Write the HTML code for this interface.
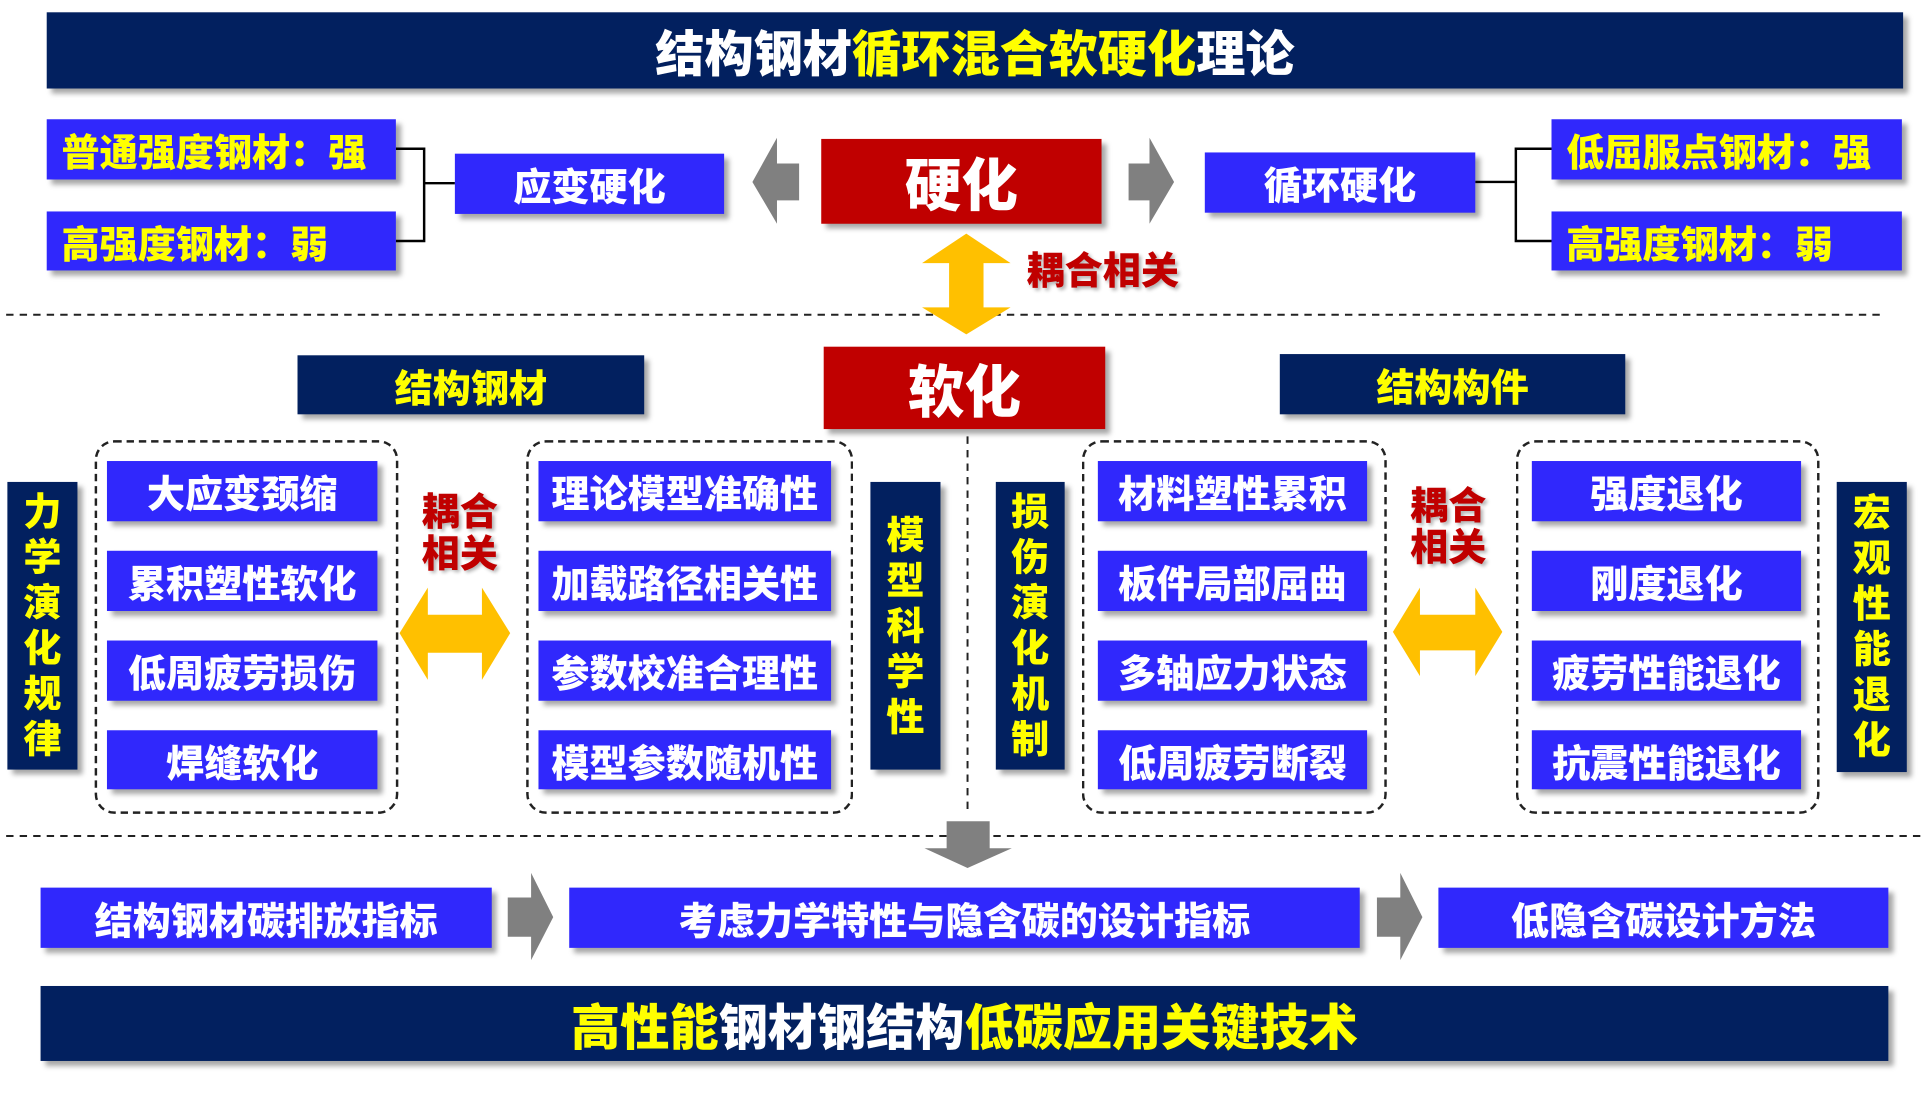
<!DOCTYPE html>
<html><head><meta charset="utf-8"><style>
html,body{margin:0;padding:0;background:#fff;width:1924px;height:1095px;overflow:hidden}
#c{position:absolute;left:0;top:0;width:1565px;height:891px;transform:scale(1.2294);transform-origin:0 0;font-family:"Liberation Sans","Noto Sans CJK SC",sans-serif;font-weight:900}
.b{position:absolute;display:flex;align-items:center;justify-content:center;box-shadow:4px 4px 4px rgba(0,0,0,.35);white-space:nowrap}
.bl{background:#3028fc;color:#fff;font-size:31px}
.nv{background:#02205f;color:#ffff00;font-size:31px}
.rd{background:#c00000;color:#fff;font-size:46px}
.y{color:#ffff00}.w{color:#fff}
.v{flex-direction:column;line-height:37px;font-size:31px}
.dbox{position:absolute;border:2px dashed #222;border-radius:16px}
.red{position:absolute;color:#c00000;font-size:31px;line-height:34px;text-shadow:2px 2px 3px rgba(0,0,0,.3)}
</style></head><body><div id="c">
<svg width="1565" height="891" style="position:absolute;left:0;top:0">
<g stroke="#000" stroke-width="2" fill="none">
<path d="M322 121H345V196H322M345 149H370"/>
<path d="M1200 148H1233M1262 121H1233V196H1262"/>
</g>
<g stroke="#222" stroke-width="1.6" stroke-dasharray="6,5">
<line x1="5" y1="256" x2="1532" y2="256"/>
<line x1="5" y1="680" x2="1565" y2="680"/>
<line x1="787" y1="355" x2="787" y2="662"/>
</g>
<g fill="#808080">
<polygon points="612,148 632,112 632,133 650,133 650,163 632,163 632,182"/>
<polygon points="955,148 935,112 935,133 918,133 918,163 935,163 935,182"/>
<polygon points="787,706 752,690 770,690 770,668 805,668 805,690 823,690"/>
<polygon points="450,746 432,710 432,730 413,730 413,762 432,762 432,781"/>
<polygon points="1157,746 1139,710 1139,730 1120,730 1120,762 1139,762 1139,781"/>
</g>
<g fill="#ffc000">
<polygon points="786,190 822,214 800,214 800,250 822,250 786,272 750,250 772,250 772,214 750,214"/>
<polygon points="325,515 348,478 348,500 392,500 392,478 415,515 392,553 392,531 348,531 348,553"/>
<polygon points="1133,514 1155,478 1155,500 1200,500 1200,478 1222,514 1200,550 1200,529 1155,529 1155,550"/>
</g>
</svg>
<div class="b nv" style="left:38px;top:10px;width:1510px;height:62px;font-size:40px"><span class="w">结构钢材</span><span class="y">循环混合软硬化</span><span class="w">理论</span></div>
<div class="b bl" style="left:38px;top:97px;width:284px;height:49px;color:#ff0;justify-content:flex-start;padding-left:12px;box-sizing:border-box">普通强度钢材：强</div>
<div class="b bl" style="left:38px;top:172px;width:284px;height:48px;color:#ff0;justify-content:flex-start;padding-left:12px;box-sizing:border-box">高强度钢材：弱</div>
<div class="b bl" style="left:370px;top:125px;width:219px;height:49px">应变硬化</div>
<div class="b rd" style="left:668px;top:113px;width:228px;height:69px">硬化</div>
<div class="b bl" style="left:980px;top:124px;width:220px;height:49px">循环硬化</div>
<div class="b bl" style="left:1262px;top:97px;width:285px;height:49px;color:#ff0;justify-content:flex-start;padding-left:12px;box-sizing:border-box">低屈服点钢材：强</div>
<div class="b bl" style="left:1262px;top:172px;width:285px;height:48px;color:#ff0;justify-content:flex-start;padding-left:12px;box-sizing:border-box">高强度钢材：弱</div>
<div class="red" style="left:835px;top:204px">耦合相关</div>
<div class="b rd" style="left:670px;top:282px;width:229px;height:67px">软化</div>
<div class="b nv" style="left:242px;top:289px;width:282px;height:48px">结构钢材</div>
<div class="b nv" style="left:1041px;top:288px;width:281px;height:49px">结构构件</div>
<div class="b nv v" style="left:6px;top:392px;width:57px;height:234px">力<br>学<br>演<br>化<br>规<br>律</div>
<div class="b nv v" style="left:708px;top:392px;width:57px;height:234px">模<br>型<br>科<br>学<br>性</div>
<div class="b nv v" style="left:810px;top:392px;width:56px;height:234px">损<br>伤<br>演<br>化<br>机<br>制</div>
<div class="b nv v" style="left:1494px;top:392px;width:57px;height:236px">宏<br>观<br>性<br>能<br>退<br>化</div>
<div class="dbox" style="left:77px;top:358px;width:243px;height:300px"></div>
<div class="dbox" style="left:428px;top:358px;width:262px;height:300px"></div>
<div class="dbox" style="left:880px;top:358px;width:244px;height:300px"></div>
<div class="dbox" style="left:1233px;top:358px;width:243px;height:300px"></div>
<div class="b bl" style="left:87px;top:375px;width:220px;height:49px">大应变颈缩</div>
<div class="b bl" style="left:87px;top:448px;width:220px;height:49px">累积塑性软化</div>
<div class="b bl" style="left:87px;top:521px;width:220px;height:49px">低周疲劳损伤</div>
<div class="b bl" style="left:87px;top:594px;width:220px;height:48px">焊缝软化</div>
<div class="b bl" style="left:438px;top:375px;width:238px;height:49px">理论模型准确性</div>
<div class="b bl" style="left:438px;top:448px;width:238px;height:49px">加载路径相关性</div>
<div class="b bl" style="left:438px;top:521px;width:238px;height:49px">参数校准合理性</div>
<div class="b bl" style="left:438px;top:594px;width:238px;height:48px">模型参数随机性</div>
<div class="b bl" style="left:893px;top:375px;width:219px;height:49px">材料塑性累积</div>
<div class="b bl" style="left:893px;top:448px;width:219px;height:49px">板件局部屈曲</div>
<div class="b bl" style="left:893px;top:521px;width:219px;height:49px">多轴应力状态</div>
<div class="b bl" style="left:893px;top:594px;width:219px;height:48px">低周疲劳断裂</div>
<div class="b bl" style="left:1246px;top:375px;width:219px;height:49px">强度退化</div>
<div class="b bl" style="left:1246px;top:448px;width:219px;height:49px">刚度退化</div>
<div class="b bl" style="left:1246px;top:521px;width:219px;height:49px">疲劳性能退化</div>
<div class="b bl" style="left:1246px;top:594px;width:219px;height:48px">抗震性能退化</div>
<div class="red" style="left:343px;top:400px">耦合<br>相关</div>
<div class="red" style="left:1147px;top:395px">耦合<br>相关</div>
<div class="b bl" style="left:33px;top:722px;width:367px;height:49px">结构钢材碳排放指标</div>
<div class="b bl" style="left:463px;top:722px;width:643px;height:49px">考虑力学特性与隐含碳的设计指标</div>
<div class="b bl" style="left:1170px;top:722px;width:366px;height:49px">低隐含碳设计方法</div>
<div class="b nv" style="left:33px;top:802px;width:1503px;height:61px;font-size:40px"><span class="y">高性能</span><span class="w">钢材钢结构</span><span class="y">低碳应用关键技术</span></div>
</div></body></html>
